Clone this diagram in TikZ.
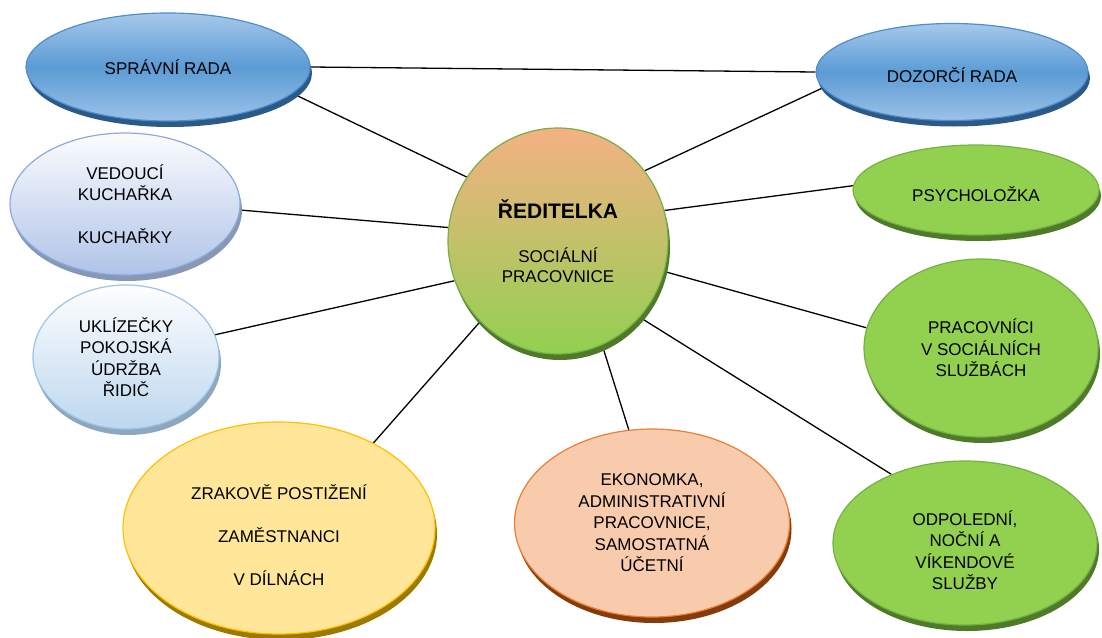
\documentclass[tikz,border=0pt]{standalone}
\usepackage{fontspec}
\setmainfont{Liberation Sans}
\usepackage{tikz}
\usetikzlibrary{shapes.geometric,shadows,backgrounds,positioning}
\definecolor{bluetop}{HTML}{A6C8EA}
\definecolor{bluemid}{HTML}{5B9BD5}
\definecolor{bluebot}{HTML}{9CC2E8}
\definecolor{blueline}{HTML}{4F8ECC}
\definecolor{blueshadow}{HTML}{2C5A88}
\definecolor{lavbot}{HTML}{B0C3E8}
\definecolor{lavline}{HTML}{8EAADB}
\definecolor{lavshadow}{HTML}{8798B6}
\definecolor{skybot}{HTML}{BDD7EE}
\definecolor{skyline}{HTML}{9DC3E6}
\definecolor{skyshadow}{HTML}{8EA6BE}
\definecolor{peach}{HTML}{F4B183}
\definecolor{leaf}{HTML}{92D050}
\definecolor{leafline}{HTML}{74B043}
\definecolor{leafshadow}{HTML}{4E7A2A}
\definecolor{apricot}{HTML}{F8CBAD}
\definecolor{apricotline}{HTML}{ED7D31}
\definecolor{apricotshadow}{HTML}{843C0C}
\definecolor{sun}{HTML}{FFE699}
\definecolor{sunline}{HTML}{FFC000}
\definecolor{sunshadow}{HTML}{9C7A00}
\tikzset{main node/.style={ellipse,draw,line width=1.2pt,inner sep=0pt,align=center,
                           font=\fontsize{17}{21.5}\selectfont},
         blue node/.style={main node,draw=blueline,top color=bluetop,bottom color=bluebot,middle color=bluemid,
                           general shadow={fill=blueshadow,shadow xshift=2pt,shadow yshift=-6pt}},
         lavender node/.style={main node,draw=lavline,top color=white!95!lavbot,bottom color=lavbot,
                           general shadow={fill=lavshadow,shadow xshift=2pt,shadow yshift=-6pt}},
         sky node/.style={main node,draw=skyline,top color=white!97!skybot,bottom color=skybot,
                           general shadow={fill=skyshadow,shadow xshift=2pt,shadow yshift=-6pt}},
         head node/.style={main node,draw=leafline,top color=peach,bottom color=leaf,
                           general shadow={fill=leafshadow,shadow xshift=2pt,shadow yshift=-6pt}},
         green node/.style={main node,draw=leafline,fill=leaf,
                           general shadow={fill=leafshadow,shadow xshift=2pt,shadow yshift=-6pt}},
         orange node/.style={main node,draw=apricotline,fill=apricot,
                           general shadow={fill=apricotshadow,shadow xshift=2pt,shadow yshift=-6pt}},
         yellow node/.style={main node,draw=sunline,fill=sun,
                           general shadow={fill=sunshadow,shadow xshift=2pt,shadow yshift=-6pt}},
         link/.style={draw=black,line width=1.3pt}
}
\newcommand{\lowstrut}[1]{\rule{0pt}{#1}}
\begin{document}
\begin{tikzpicture}[x=1pt,y=-1pt]
\useasboundingbox (0,0) rectangle (1102,637);
\node [blue node, minimum width=284pt, minimum height=108pt] (sprava) at (168,67) {SPRÁVNÍ RADA};
\node [blue node, minimum width=272pt, minimum height=97pt, text height=22pt] (dozor) at (952,72) {DOZORČÍ RADA};
\node [lavender node, minimum width=230pt, minimum height=142pt] (kuchyne) at (125,204)
    {VEDOUCÍ\\KUCHAŘKA\\[21.5pt]KUCHAŘKY};
\node [sky node, minimum width=186pt, minimum height=144pt] (provoz) at (126,357)
    {UKLÍZEČKY\\POKOJSKÁ\\ÚDRŽBA\\ŘIDIČ};
\node [head node, minimum width=220pt, minimum height=226pt] (reditelka) at (558,241)
    {{\bfseries\fontsize{21}{25}\selectfont ŘEDITELKA}\\[23pt]SOCIÁLNÍ\\[-1.5pt]PRACOVNICE};
\node [green node, minimum width=246pt, minimum height=90pt, text height=23pt] (psych) at (976,190) {PSYCHOLOŽKA};
\node [green node, minimum width=234pt, minimum height=178pt] (socialni) at (981,348)
    {PRACOVNÍCI\\V SOCIÁLNÍCH\\SLUŽBÁCH};
\node [green node, minimum width=264pt, minimum height=164pt] (sluzby) at (965,543)
    {\lowstrut{29pt}ODPOLEDNÍ,\\NOČNÍ A\\VÍKENDOVÉ\\SLUŽBY};
\node [orange node, minimum width=275pt, minimum height=188pt] (ekonom) at (652,523)
    {EKONOMKA,\\ADMINISTRATIVNÍ\\PRACOVNICE,\\SAMOSTATNÁ\\ÚČETNÍ};
\node [yellow node, minimum width=312pt, minimum height=212pt] (dilny) at (279,528)
    {\lowstrut{29pt}ZRAKOVĚ POSTIŽENÍ\\[21.5pt]ZAMĚSTNANCI\\[21.5pt]V DÍLNÁCH};
\begin{pgfonlayer}{background}
\draw [link] (sprava.east) -- (dozor.west);
\draw [link] (sprava.-12.6) -- (reditelka.145);
\draw [link] (dozor.-173) -- (reditelka.39);
\draw [link] (kuchyne.-3) -- (reditelka.173);
\draw [link] (psych.178) -- (reditelka.16);
\draw [link] (provoz.14) -- (reditelka.201);
\draw [link] (socialni.170) -- (reditelka.-16);
\draw [link] (dilny.42) -- (reditelka.226);
\draw [link] (ekonom.104) -- (reditelka.-67);
\draw [link] (sluzby.137) -- (reditelka.-43);
\end{pgfonlayer}
\end{tikzpicture}
\end{document}
